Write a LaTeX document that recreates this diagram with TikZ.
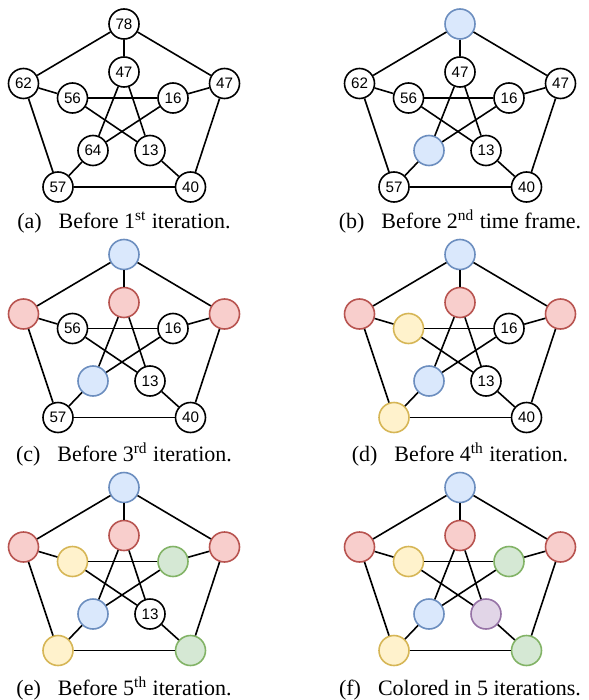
\documentclass[tikz,border=0pt]{standalone}
\usepackage{fontspec}
\setmainfont{Liberation Serif}
\newfontfamily\vtxfont{Liberation Sans}

\definecolor{blueF}{HTML}{DAE8FC}
\definecolor{blueD}{HTML}{6C8EBF}
\definecolor{redF}{HTML}{F8CECC}
\definecolor{redD}{HTML}{B85450}
\definecolor{yellowF}{HTML}{FFF2CC}
\definecolor{yellowD}{HTML}{D6B656}
\definecolor{greenF}{HTML}{D5E8D4}
\definecolor{greenD}{HTML}{82B366}
\definecolor{purpleF}{HTML}{E1D5E7}
\definecolor{purpleD}{HTML}{9673A6}

\tikzset{
	vtx/.style={circle, draw=black, fill=white, line width=0.8pt, minimum size=15pt, inner sep=0pt, font=\vtxfont\fontsize{7.6}{8}\selectfont},
	cblue/.style={vtx, fill=blueF, draw=blueD},
	cred/.style={vtx, fill=redF, draw=redD},
	cyellow/.style={vtx, fill=yellowF, draw=yellowD},
	cgreen/.style={vtx, fill=greenF, draw=greenD},
	cpurple/.style={vtx, fill=purpleF, draw=purpleD},
	link/.style={line width=0.8pt},
	capt/.style={anchor=base, inner sep=0pt, font=\fontsize{11}{13}\selectfont}
}

% edges of the petersen graph, #1 = prefix of the node names
\newcommand{\petlinks}[1]{%
	\foreach \p/\q in {o1/o2,o2/o3,o3/o4,o4/o5,o5/o1,o1/i1,o2/i2,o3/i3,o4/i4,o5/i5,i1/i3,i3/i5,i5/i2,i2/i4,i4/i1}
		{\draw[link] (#1\p) -- (#1\q);}%
}
\newcommand{\capgap}{\hspace{8.5pt}}

\begin{document}
\begin{tikzpicture}[x=0.5pt,y=0.5pt,yscale=-1,xscale=1]
	\useasboundingbox (0,0) rectangle (588,700);

	% (a)
	\begin{scope}[shift={(124,24)}]
		\node[vtx] (ao1) at (0,0) {78};
		\node[vtx] (ao2) at (100.5,59.5) {47};
		\node[vtx] (ao3) at (66.5,163) {40};
		\node[vtx] (ao4) at (-66,163) {57};
		\node[vtx] (ao5) at (-100.5,59.5) {62};
		\node[vtx] (ai1) at (0,48) {47};
		\node[vtx] (ai2) at (49,74) {16};
		\node[vtx] (ai3) at (26,126.5) {13};
		\node[vtx] (ai4) at (-31,126.5) {64};
		\node[vtx] (ai5) at (-51.5,74) {56};
		\petlinks{a}
	\end{scope}
	\node[capt] (capa) at (124,228) {(a)\capgap Before 1\textsuperscript{st} iteration.};

	% (b)
	\begin{scope}[shift={(460,24)}]
		\node[cblue] (bo1) at (0,0) {};
		\node[vtx] (bo2) at (100.5,59.5) {47};
		\node[vtx] (bo3) at (66.5,163) {40};
		\node[vtx] (bo4) at (-66,163) {57};
		\node[vtx] (bo5) at (-100.5,59.5) {62};
		\node[vtx] (bi1) at (0,48) {47};
		\node[vtx] (bi2) at (49,74) {16};
		\node[vtx] (bi3) at (26,126.5) {13};
		\node[cblue] (bi4) at (-31,126.5) {};
		\node[vtx] (bi5) at (-51.5,74) {56};
		\petlinks{b}
	\end{scope}
	\node[capt] (capb) at (460,228) {(b)\capgap Before 2\textsuperscript{nd} time frame.};

	% (c)
	\begin{scope}[shift={(124,254.5)}]
		\node[cblue] (co1) at (0,0) {};
		\node[cred] (co2) at (100.5,59.5) {};
		\node[vtx] (co3) at (66.5,163) {40};
		\node[vtx] (co4) at (-66,163) {57};
		\node[cred] (co5) at (-100.5,59.5) {};
		\node[cred] (ci1) at (0,48) {};
		\node[vtx] (ci2) at (49,74) {16};
		\node[vtx] (ci3) at (26,126.5) {13};
		\node[cblue] (ci4) at (-31,126.5) {};
		\node[vtx] (ci5) at (-51.5,74) {56};
		\petlinks{c}
	\end{scope}
	\node[capt] (capc) at (124,461.5) {(c)\capgap Before 3\textsuperscript{rd} iteration.};

	% (d)
	\begin{scope}[shift={(460,254.5)}]
		\node[cblue] (do1) at (0,0) {};
		\node[cred] (do2) at (100.5,59.5) {};
		\node[vtx] (do3) at (66.5,163) {40};
		\node[cyellow] (do4) at (-66,163) {};
		\node[cred] (do5) at (-100.5,59.5) {};
		\node[cred] (di1) at (0,48) {};
		\node[vtx] (di2) at (49,74) {16};
		\node[vtx] (di3) at (26,126.5) {13};
		\node[cblue] (di4) at (-31,126.5) {};
		\node[cyellow] (di5) at (-51.5,74) {};
		\petlinks{d}
	\end{scope}
	\node[capt] (capd) at (460,461.5) {(d)\capgap Before 4\textsuperscript{th} iteration.};

	% (e)
	\begin{scope}[shift={(124,487.5)}]
		\node[cblue] (eo1) at (0,0) {};
		\node[cred] (eo2) at (100.5,59.5) {};
		\node[cgreen] (eo3) at (66.5,163) {};
		\node[cyellow] (eo4) at (-66,163) {};
		\node[cred] (eo5) at (-100.5,59.5) {};
		\node[cred] (ei1) at (0,48) {};
		\node[cgreen] (ei2) at (49,74) {};
		\node[vtx] (ei3) at (26,126.5) {13};
		\node[cblue] (ei4) at (-31,126.5) {};
		\node[cyellow] (ei5) at (-51.5,74) {};
		\petlinks{e}
	\end{scope}
	\node[capt] (cape) at (124,695.5) {(e)\capgap Before 5\textsuperscript{th} iteration.};

	% (f)
	\begin{scope}[shift={(460,487.5)}]
		\node[cblue] (fo1) at (0,0) {};
		\node[cred] (fo2) at (100.5,59.5) {};
		\node[cgreen] (fo3) at (66.5,163) {};
		\node[cyellow] (fo4) at (-66,163) {};
		\node[cred] (fo5) at (-100.5,59.5) {};
		\node[cred] (fi1) at (0,48) {};
		\node[cgreen] (fi2) at (49,74) {};
		\node[cpurple] (fi3) at (26,126.5) {};
		\node[cblue] (fi4) at (-31,126.5) {};
		\node[cyellow] (fi5) at (-51.5,74) {};
		\petlinks{f}
	\end{scope}
	\node[capt] (capf) at (460,695.5) {(f)\capgap Colored in 5 iterations.};

\end{tikzpicture}
\end{document}
